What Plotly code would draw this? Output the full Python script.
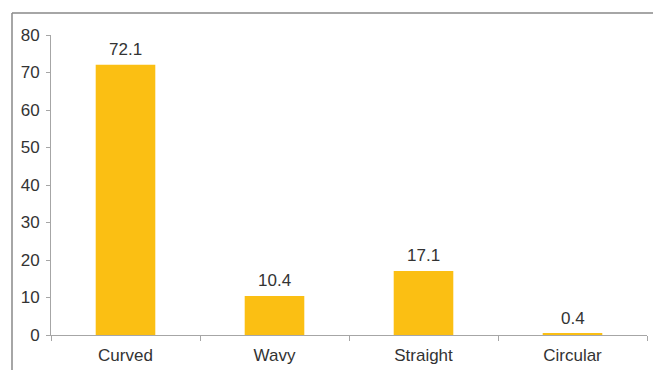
import plotly.graph_objects as go

categories = ["Curved", "Wavy", "Straight", "Circular"]
values = [72.1, 10.4, 17.1, 0.4]
y_ticks = [0, 10, 20, 30, 40, 50, 60, 70, 80]

BAR_COLOR = "#FBBF13"
AXIS_COLOR = "#A6A6A6"
TEXT_COLOR = "#333333"
FONT = "Liberation Sans, Arial, sans-serif"
FS = 17

fig = go.Figure(
    go.Bar(
        x=categories,
        y=values,
        marker=dict(color=BAR_COLOR, line=dict(width=0)),
        cliponaxis=False,
    )
)

W, H = 653, 370
ml, mr, mt, mb = 51, 6, 35, 35
pw, ph = W - ml - mr, H - mt - mb

def px_x(x):
    return (x - ml) / pw

def px_y(y):
    return (H - mb - y) / ph

annotations = [
    dict(x=c, y=v, xref="x", yref="y", text=f"{v:.1f}", showarrow=False,
         yanchor="bottom", yshift=4,
         font=dict(family=FONT, size=FS, color=TEXT_COLOR))
    for c, v in zip(categories, values)
]

fig.update_layout(
    width=W,
    height=H,
    margin=dict(l=ml, r=mr, t=mt, b=mb),
    paper_bgcolor="white",
    plot_bgcolor="white",
    bargap=0.6,
    showlegend=False,
    font=dict(family=FONT, size=FS, color=TEXT_COLOR),
    annotations=annotations,
    xaxis=dict(
        showline=True,
        linecolor=AXIS_COLOR,
        linewidth=1,
        ticks="outside",
        tickson="boundaries",
        ticklen=5,
        tickcolor=AXIS_COLOR,
        showgrid=False,
        tickfont=dict(family=FONT, size=FS, color=TEXT_COLOR),
        ticklabelstandoff=5,
    ),
    yaxis=dict(
        range=[0, 80],
        tickvals=y_ticks,
        showline=True,
        linecolor=AXIS_COLOR,
        linewidth=1,
        ticks="outside",
        ticklen=4,
        tickcolor=AXIS_COLOR,
        showgrid=False,
        zeroline=False,
        tickfont=dict(family=FONT, size=FS, color=TEXT_COLOR),
        ticklabelstandoff=3,
    ),
    shapes=[
        dict(type="line", xref="paper", yref="paper",
             x0=px_x(12), x1=px_x(660), y0=px_y(13), y1=px_y(13),
             line=dict(color="#888888", width=1.5)),
        dict(type="line", xref="paper", yref="paper",
             x0=px_x(12), x1=px_x(12), y0=px_y(13), y1=px_y(380),
             line=dict(color="#888888", width=1.5)),
    ],
)

fig.write_html("out.html")
